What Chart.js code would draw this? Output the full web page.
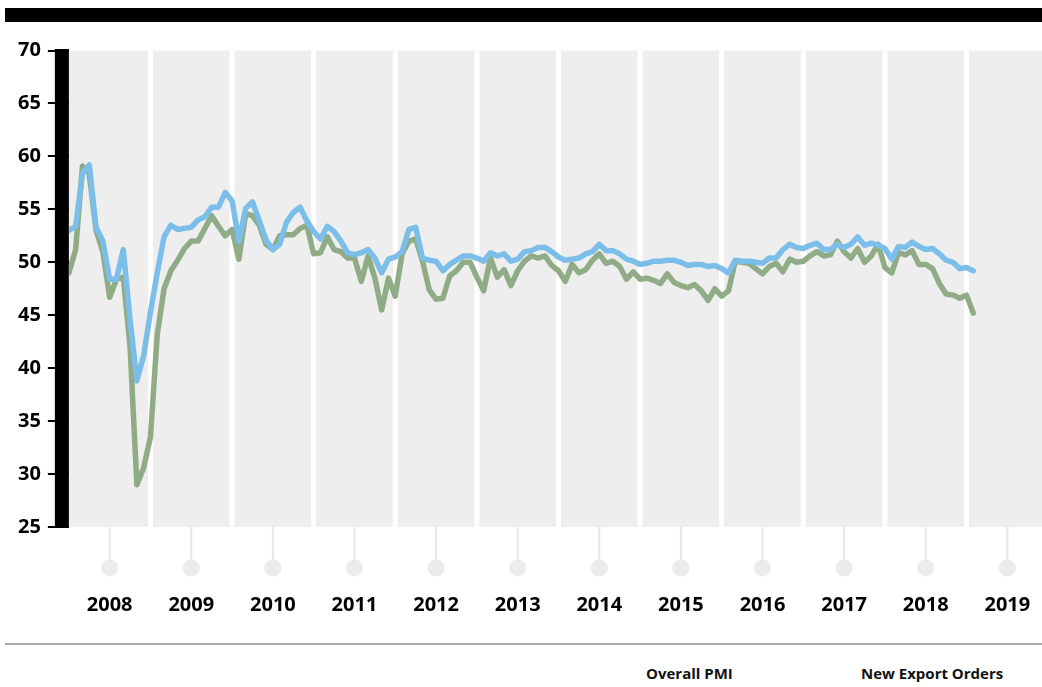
<!DOCTYPE html>
<html>
<head>
<meta charset="utf-8">
<script src="https://cdn.jsdelivr.net/npm/chart.js@4"></script>
<style>
  body { margin: 0; background: #fff; font-family: 'Open Sans', sans-serif; }
  #wrap { position: relative; width: 1042px; height: 687px; overflow: hidden; }
  #topbar { position: absolute; left: 5px; top: 8px; width: 1037px; height: 14px; background: #000; }
  #chart { position: absolute; left: 0; top: 0; }
  #rule { position: absolute; left: 5px; top: 643px; width: 1037px; height: 2px; background: #aaa; }
  .key { position: absolute; top: 663px; font-weight: 700; font-size: 15px; color: #111; white-space: nowrap; }
</style>
</head>
<body>
<div id="wrap">
  <div id="topbar"></div>
  <canvas id="chart" width="1042" height="630"></canvas>
  <div id="rule"></div>
  <div class="key" style="left:646px">Overall PMI</div>
  <div class="key" style="left:861px">New Export Orders</div>
</div>
<script>
// monthly readings, Jan 2008 .. Feb 2019
const yearLabels = ['2008', '2009', '2010', '2011', '2012', '2013', '2014', '2015', '2016', '2017', '2018', '2019'];

const overallPMI = [
    53.0, 53.4, 58.4, 59.2, 53.3, 52.0, 48.4, 48.4, 51.2, 44.6, 38.8, 41.2,
    45.3, 49.0, 52.4, 53.5, 53.1, 53.2, 53.3, 54.0, 54.3, 55.2, 55.2, 56.6,
    55.8, 52.0, 55.1, 55.7, 53.9, 52.1, 51.2, 51.7, 53.8, 54.7, 55.2, 53.9,
    52.9, 52.2, 53.4, 52.9, 52.0, 50.9, 50.7, 50.9, 51.2, 50.4, 49.0, 50.3,
    50.5, 51.0, 53.1, 53.3, 50.4, 50.2, 50.1, 49.2, 49.8, 50.2, 50.6, 50.6,
    50.4, 50.1, 50.9, 50.6, 50.8, 50.1, 50.3, 51.0, 51.1, 51.4, 51.4, 51.0,
    50.5, 50.2, 50.3, 50.4, 50.8, 51.0, 51.7, 51.1, 51.1, 50.8, 50.3, 50.1,
    49.8, 49.9, 50.1, 50.1, 50.2, 50.2, 50.0, 49.7, 49.8, 49.8, 49.6, 49.7,
    49.4, 49.0, 50.2, 50.1, 50.1, 50.0, 49.9, 50.4, 50.4, 51.2, 51.7, 51.4,
    51.3, 51.6, 51.8, 51.2, 51.2, 51.7, 51.4, 51.7, 52.4, 51.6, 51.8, 51.6,
    51.3, 50.3, 51.5, 51.4, 51.9, 51.5, 51.2, 51.3, 50.8, 50.2, 50.0, 49.4,
    49.5, 49.2
];

const newExportOrders = [
    49.0, 51.2, 59.1, 58.3, 53.0, 51.0, 46.7, 48.4, 48.6, 42.0, 29.0, 30.6,
    33.5, 43.2, 47.5, 49.2, 50.2, 51.3, 52.0, 52.0, 53.2, 54.4, 53.4, 52.5,
    53.1, 50.3, 54.6, 54.4, 53.5, 51.7, 51.2, 52.5, 52.6, 52.6, 53.2, 53.5,
    50.8, 50.9, 52.4, 51.2, 51.0, 50.4, 50.4, 48.2, 50.6, 48.5, 45.5, 48.5,
    46.8, 50.8, 52.0, 52.2, 50.1, 47.4, 46.5, 46.6, 48.7, 49.2, 50.0, 50.0,
    48.6, 47.3, 50.4, 48.6, 49.3, 47.8, 49.2, 50.1, 50.6, 50.4, 50.6, 49.7,
    49.2, 48.2, 49.8, 49.0, 49.3, 50.2, 50.8, 49.9, 50.1, 49.6, 48.4, 49.1,
    48.4, 48.5, 48.3, 48.0, 48.9, 48.1, 47.8, 47.6, 47.9, 47.3, 46.4, 47.5,
    46.8, 47.3, 50.1, 50.0, 49.9, 49.4, 48.9, 49.6, 49.9, 49.1, 50.3, 50.0,
    50.1, 50.6, 51.0, 50.6, 50.7, 52.0, 51.0, 50.4, 51.3, 50.0, 50.6, 51.7,
    49.5, 49.0, 50.9, 50.7, 51.1, 49.8, 49.8, 49.4, 48.0, 47.0, 46.9, 46.6,
    46.9, 45.2
];

const yTicks = [25, 30, 35, 40, 45, 50, 55, 60, 65, 70];

const blue = '#7bbee9';
const green = '#8fac86';

// month index on x, one band per year
const toPoints = arr => arr.map((v, i) => ({ x: i, y: v }));
const yearCenters = yearLabels.map((_, k) => k * 12 + 6);

const decor = {
    id: 'decor',
    beforeDatasetsDraw(chart) {
        const { ctx, chartArea: a, scales: { x } } = chart;
        ctx.save();
        ctx.fillStyle = '#eeeeee';
        ctx.fillRect(a.left, a.top, a.right - a.left, a.bottom - a.top);
        ctx.fillStyle = '#ffffff';
        for (let k = 1; k < yearLabels.length; k++) {
            const px = x.getPixelForValue(k * 12);
            ctx.fillRect(px - 2.5, a.top, 5, a.bottom - a.top);
        }
        // stems + dots under each year
        x.ticks.forEach(t => {
            const px = x.getPixelForValue(t.value);
            ctx.strokeStyle = '#e6e6e6';
            ctx.lineWidth = 2;
            ctx.beginPath();
            ctx.moveTo(px, a.bottom);
            ctx.lineTo(px, a.bottom + 36);
            ctx.stroke();
            ctx.fillStyle = '#ebebeb';
            ctx.beginPath();
            ctx.arc(px, a.bottom + 41, 8.5, 0, Math.PI * 2);
            ctx.fill();
        });
        // thick black y axis
        ctx.fillStyle = '#000';
        ctx.fillRect(a.left - 14, a.top - 1.5, 14, a.bottom - a.top + 1.5);
        ctx.restore();
    }
};

new Chart(document.getElementById('chart'), {
    type: 'line',
    data: {
        datasets: [
            {
                label: 'Overall PMI',
                data: toPoints(overallPMI),
                borderColor: blue,
                borderWidth: 5.5,
                pointRadius: 0,
                borderJoinStyle: 'round',
                borderCapStyle: 'round',
                tension: 0
            },
            {
                label: 'New Export Orders',
                data: toPoints(newExportOrders),
                borderColor: green,
                borderWidth: 5.5,
                pointRadius: 0,
                borderJoinStyle: 'round',
                borderCapStyle: 'round',
                tension: 0
            }
        ]
    },
    options: {
        responsive: false,
        animation: false,
        layout: { padding: { top: 50.5, left: 11, right: 0, bottom: 9 } },
        plugins: { legend: { display: false }, tooltip: { enabled: false } },
        scales: {
            x: {
                type: 'linear',
                min: 0,
                max: 143.1,
                afterBuildTicks: axis => { axis.ticks = yearCenters.map(v => ({ value: v })); },
                grid: { drawOnChartArea: false, color: 'rgba(0,0,0,0)', tickLength: 62 },
                border: { display: false },
                ticks: {
                    autoSkip: false,
                    maxRotation: 0,
                    padding: 4,
                    color: '#000',
                    font: { family: 'Open Sans', size: 20, weight: 'bold' },
                    callback: (v, i) => yearLabels[i]
                }
            },
            y: {
                min: 25,
                max: 70,
                afterBuildTicks: axis => { axis.ticks = yTicks.map(v => ({ value: v })); },
                grid: { drawOnChartArea: false, color: '#000', lineWidth: 2, tickLength: 21 },
                border: { display: false },
                ticks: {
                    padding: 7,
                    color: '#000',
                    font: { family: 'Open Sans', size: 20, weight: 'bold' }
                }
            }
        }
    },
    plugins: [decor]
});
</script>
</body>
</html>
